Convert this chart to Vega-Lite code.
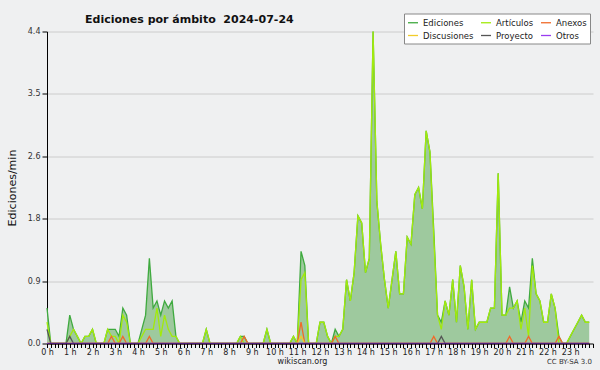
{
"$schema": "https://vega.github.io/schema/vega-lite/v6.json",
"width": 546, "height": 312,
"autosize": {"type": "none"},
"padding": {"left": 47, "top": 31.5, "right": 7, "bottom": 26.5},
"background": "#eff0f1",
"config": {"view": {"stroke": null, "fill": "#eff0f1"}, "font": "DejaVu Sans"},
"title": {"text": "Ediciones por ámbito\u00a0 2024-07-24", "anchor": "start", "frame": "group", "dx": 38, "dy": 32, "font": "DejaVu Sans", "fontSize": 11, "fontWeight": "bold", "color": "#111111", "offset": 11, "baseline": "alphabetic"},
"data": {"values": [
{"min":0,"Ediciones":0.5,"Artículos":0.3,"Anexos":0,"Discusiones":0,"Proyecto":0.2,"Otros":0},
{"min":10,"Ediciones":0,"Artículos":0,"Anexos":0,"Discusiones":0,"Proyecto":0,"Otros":0},
{"min":20,"Ediciones":0,"Artículos":0,"Anexos":0,"Discusiones":0,"Proyecto":0,"Otros":0},
{"min":30,"Ediciones":0,"Artículos":0,"Anexos":0,"Discusiones":0,"Proyecto":0,"Otros":0},
{"min":40,"Ediciones":0,"Artículos":0,"Anexos":0,"Discusiones":0,"Proyecto":0,"Otros":0},
{"min":50,"Ediciones":0,"Artículos":0,"Anexos":0,"Discusiones":0,"Proyecto":0,"Otros":0},
{"min":60,"Ediciones":0.4,"Artículos":0.1,"Anexos":0,"Discusiones":0,"Proyecto":0.1,"Otros":0},
{"min":70,"Ediciones":0.2,"Artículos":0.2,"Anexos":0,"Discusiones":0,"Proyecto":0,"Otros":0},
{"min":80,"Ediciones":0.1,"Artículos":0.1,"Anexos":0,"Discusiones":0,"Proyecto":0,"Otros":0},
{"min":90,"Ediciones":0,"Artículos":0,"Anexos":0,"Discusiones":0,"Proyecto":0,"Otros":0},
{"min":100,"Ediciones":0.1,"Artículos":0.1,"Anexos":0,"Discusiones":0,"Proyecto":0,"Otros":0},
{"min":110,"Ediciones":0.1,"Artículos":0.1,"Anexos":0,"Discusiones":0,"Proyecto":0,"Otros":0},
{"min":120,"Ediciones":0.2,"Artículos":0.2,"Anexos":0,"Discusiones":0,"Proyecto":0,"Otros":0},
{"min":130,"Ediciones":0,"Artículos":0,"Anexos":0,"Discusiones":0,"Proyecto":0,"Otros":0},
{"min":140,"Ediciones":0,"Artículos":0,"Anexos":0,"Discusiones":0,"Proyecto":0,"Otros":0},
{"min":150,"Ediciones":0,"Artículos":0,"Anexos":0,"Discusiones":0,"Proyecto":0,"Otros":0},
{"min":160,"Ediciones":0.2,"Artículos":0.2,"Anexos":0,"Discusiones":0,"Proyecto":0,"Otros":0},
{"min":170,"Ediciones":0.2,"Artículos":0.1,"Anexos":0.1,"Discusiones":0,"Proyecto":0,"Otros":0},
{"min":180,"Ediciones":0.2,"Artículos":0.1,"Anexos":0,"Discusiones":0,"Proyecto":0,"Otros":0},
{"min":190,"Ediciones":0.1,"Artículos":0,"Anexos":0,"Discusiones":0,"Proyecto":0,"Otros":0},
{"min":200,"Ediciones":0.5,"Artículos":0.4,"Anexos":0.1,"Discusiones":0,"Proyecto":0,"Otros":0},
{"min":210,"Ediciones":0.4,"Artículos":0.3,"Anexos":0,"Discusiones":0,"Proyecto":0,"Otros":0},
{"min":220,"Ediciones":0,"Artículos":0,"Anexos":0,"Discusiones":0,"Proyecto":0,"Otros":0},
{"min":230,"Ediciones":0,"Artículos":0,"Anexos":0,"Discusiones":0,"Proyecto":0,"Otros":0},
{"min":240,"Ediciones":0,"Artículos":0,"Anexos":0,"Discusiones":0,"Proyecto":0,"Otros":0},
{"min":250,"Ediciones":0.2,"Artículos":0.1,"Anexos":0,"Discusiones":0,"Proyecto":0,"Otros":0},
{"min":260,"Ediciones":0.4,"Artículos":0.2,"Anexos":0,"Discusiones":0,"Proyecto":0,"Otros":0},
{"min":270,"Ediciones":1.2,"Artículos":0.2,"Anexos":0.1,"Discusiones":0,"Proyecto":0,"Otros":0},
{"min":280,"Ediciones":0.5,"Artículos":0.2,"Anexos":0,"Discusiones":0,"Proyecto":0,"Otros":0},
{"min":290,"Ediciones":0.6,"Artículos":0.5,"Anexos":0,"Discusiones":0,"Proyecto":0,"Otros":0},
{"min":300,"Ediciones":0.4,"Artículos":0.1,"Anexos":0,"Discusiones":0,"Proyecto":0,"Otros":0},
{"min":310,"Ediciones":0.6,"Artículos":0.4,"Anexos":0,"Discusiones":0,"Proyecto":0,"Otros":0},
{"min":320,"Ediciones":0.5,"Artículos":0.2,"Anexos":0,"Discusiones":0,"Proyecto":0,"Otros":0},
{"min":330,"Ediciones":0.6,"Artículos":0.1,"Anexos":0,"Discusiones":0,"Proyecto":0,"Otros":0},
{"min":340,"Ediciones":0.1,"Artículos":0.1,"Anexos":0,"Discusiones":0,"Proyecto":0,"Otros":0},
{"min":350,"Ediciones":0,"Artículos":0,"Anexos":0,"Discusiones":0,"Proyecto":0,"Otros":0},
{"min":360,"Ediciones":0,"Artículos":0,"Anexos":0,"Discusiones":0,"Proyecto":0,"Otros":0},
{"min":370,"Ediciones":0,"Artículos":0,"Anexos":0,"Discusiones":0,"Proyecto":0,"Otros":0},
{"min":380,"Ediciones":0,"Artículos":0,"Anexos":0,"Discusiones":0,"Proyecto":0,"Otros":0},
{"min":390,"Ediciones":0,"Artículos":0,"Anexos":0,"Discusiones":0,"Proyecto":0,"Otros":0},
{"min":400,"Ediciones":0,"Artículos":0,"Anexos":0,"Discusiones":0,"Proyecto":0,"Otros":0},
{"min":410,"Ediciones":0,"Artículos":0,"Anexos":0,"Discusiones":0,"Proyecto":0,"Otros":0},
{"min":420,"Ediciones":0.2,"Artículos":0.2,"Anexos":0,"Discusiones":0,"Proyecto":0,"Otros":0},
{"min":430,"Ediciones":0,"Artículos":0,"Anexos":0,"Discusiones":0,"Proyecto":0,"Otros":0},
{"min":440,"Ediciones":0,"Artículos":0,"Anexos":0,"Discusiones":0,"Proyecto":0,"Otros":0},
{"min":450,"Ediciones":0,"Artículos":0,"Anexos":0,"Discusiones":0,"Proyecto":0,"Otros":0},
{"min":460,"Ediciones":0,"Artículos":0,"Anexos":0,"Discusiones":0,"Proyecto":0,"Otros":0},
{"min":470,"Ediciones":0,"Artículos":0,"Anexos":0,"Discusiones":0,"Proyecto":0,"Otros":0},
{"min":480,"Ediciones":0,"Artículos":0,"Anexos":0,"Discusiones":0,"Proyecto":0,"Otros":0},
{"min":490,"Ediciones":0,"Artículos":0,"Anexos":0,"Discusiones":0,"Proyecto":0,"Otros":0},
{"min":500,"Ediciones":0,"Artículos":0,"Anexos":0,"Discusiones":0,"Proyecto":0,"Otros":0},
{"min":510,"Ediciones":0.1,"Artículos":0.1,"Anexos":0,"Discusiones":0,"Proyecto":0,"Otros":0},
{"min":520,"Ediciones":0.1,"Artículos":0,"Anexos":0.1,"Discusiones":0,"Proyecto":0,"Otros":0},
{"min":530,"Ediciones":0,"Artículos":0,"Anexos":0,"Discusiones":0,"Proyecto":0,"Otros":0},
{"min":540,"Ediciones":0,"Artículos":0,"Anexos":0,"Discusiones":0,"Proyecto":0,"Otros":0},
{"min":550,"Ediciones":0,"Artículos":0,"Anexos":0,"Discusiones":0,"Proyecto":0,"Otros":0},
{"min":560,"Ediciones":0,"Artículos":0,"Anexos":0,"Discusiones":0,"Proyecto":0,"Otros":0},
{"min":570,"Ediciones":0,"Artículos":0,"Anexos":0,"Discusiones":0,"Proyecto":0,"Otros":0},
{"min":580,"Ediciones":0.2,"Artículos":0.2,"Anexos":0,"Discusiones":0,"Proyecto":0,"Otros":0},
{"min":590,"Ediciones":0,"Artículos":0,"Anexos":0,"Discusiones":0,"Proyecto":0,"Otros":0},
{"min":600,"Ediciones":0,"Artículos":0,"Anexos":0,"Discusiones":0,"Proyecto":0,"Otros":0},
{"min":610,"Ediciones":0,"Artículos":0,"Anexos":0,"Discusiones":0,"Proyecto":0,"Otros":0},
{"min":620,"Ediciones":0,"Artículos":0,"Anexos":0,"Discusiones":0,"Proyecto":0,"Otros":0},
{"min":630,"Ediciones":0,"Artículos":0,"Anexos":0,"Discusiones":0,"Proyecto":0,"Otros":0},
{"min":640,"Ediciones":0,"Artículos":0,"Anexos":0,"Discusiones":0,"Proyecto":0,"Otros":0},
{"min":650,"Ediciones":0.1,"Artículos":0.1,"Anexos":0,"Discusiones":0,"Proyecto":0,"Otros":0},
{"min":660,"Ediciones":0,"Artículos":0,"Anexos":0,"Discusiones":0,"Proyecto":0,"Otros":0},
{"min":670,"Ediciones":1.3,"Artículos":0.9,"Anexos":0.3,"Discusiones":0.1,"Proyecto":0,"Otros":0},
{"min":680,"Ediciones":1.1,"Artículos":1.0,"Anexos":0,"Discusiones":0,"Proyecto":0,"Otros":0},
{"min":690,"Ediciones":0,"Artículos":0,"Anexos":0,"Discusiones":0,"Proyecto":0,"Otros":0},
{"min":700,"Ediciones":0,"Artículos":0,"Anexos":0,"Discusiones":0,"Proyecto":0,"Otros":0},
{"min":710,"Ediciones":0,"Artículos":0,"Anexos":0,"Discusiones":0,"Proyecto":0,"Otros":0},
{"min":720,"Ediciones":0.3,"Artículos":0.3,"Anexos":0,"Discusiones":0,"Proyecto":0,"Otros":0},
{"min":730,"Ediciones":0.3,"Artículos":0.3,"Anexos":0,"Discusiones":0,"Proyecto":0,"Otros":0},
{"min":740,"Ediciones":0.1,"Artículos":0.1,"Anexos":0,"Discusiones":0,"Proyecto":0,"Otros":0},
{"min":750,"Ediciones":0,"Artículos":0,"Anexos":0,"Discusiones":0,"Proyecto":0,"Otros":0},
{"min":760,"Ediciones":0.2,"Artículos":0.1,"Anexos":0.1,"Discusiones":0,"Proyecto":0,"Otros":0},
{"min":770,"Ediciones":0.1,"Artículos":0.1,"Anexos":0,"Discusiones":0,"Proyecto":0,"Otros":0},
{"min":780,"Ediciones":0.2,"Artículos":0.2,"Anexos":0,"Discusiones":0,"Proyecto":0,"Otros":0},
{"min":790,"Ediciones":0.9,"Artículos":0.9,"Anexos":0,"Discusiones":0,"Proyecto":0,"Otros":0},
{"min":800,"Ediciones":0.6,"Artículos":0.6,"Anexos":0,"Discusiones":0,"Proyecto":0,"Otros":0},
{"min":810,"Ediciones":1.0,"Artículos":1.0,"Anexos":0,"Discusiones":0,"Proyecto":0,"Otros":0},
{"min":820,"Ediciones":1.8,"Artículos":1.8,"Anexos":0,"Discusiones":0,"Proyecto":0,"Otros":0},
{"min":830,"Ediciones":1.7,"Artículos":1.7,"Anexos":0,"Discusiones":0,"Proyecto":0,"Otros":0},
{"min":840,"Ediciones":1.0,"Artículos":1.0,"Anexos":0,"Discusiones":0,"Proyecto":0,"Otros":0},
{"min":850,"Ediciones":1.2,"Artículos":1.2,"Anexos":0,"Discusiones":0,"Proyecto":0,"Otros":0},
{"min":860,"Ediciones":4.4,"Artículos":4.4,"Anexos":0,"Discusiones":0,"Proyecto":0,"Otros":0},
{"min":870,"Ediciones":2.0,"Artículos":2.0,"Anexos":0,"Discusiones":0,"Proyecto":0,"Otros":0},
{"min":880,"Ediciones":1.4,"Artículos":1.4,"Anexos":0,"Discusiones":0,"Proyecto":0,"Otros":0},
{"min":890,"Ediciones":0.9,"Artículos":0.9,"Anexos":0,"Discusiones":0,"Proyecto":0,"Otros":0},
{"min":900,"Ediciones":0.5,"Artículos":0.5,"Anexos":0,"Discusiones":0,"Proyecto":0,"Otros":0},
{"min":910,"Ediciones":0.9,"Artículos":0.9,"Anexos":0,"Discusiones":0,"Proyecto":0,"Otros":0},
{"min":920,"Ediciones":1.3,"Artículos":1.3,"Anexos":0,"Discusiones":0,"Proyecto":0,"Otros":0},
{"min":930,"Ediciones":0.7,"Artículos":0.7,"Anexos":0,"Discusiones":0,"Proyecto":0,"Otros":0},
{"min":940,"Ediciones":0.7,"Artículos":0.7,"Anexos":0,"Discusiones":0,"Proyecto":0,"Otros":0},
{"min":950,"Ediciones":1.5,"Artículos":1.5,"Anexos":0,"Discusiones":0,"Proyecto":0,"Otros":0},
{"min":960,"Ediciones":1.4,"Artículos":1.4,"Anexos":0,"Discusiones":0,"Proyecto":0,"Otros":0},
{"min":970,"Ediciones":2.1,"Artículos":2.1,"Anexos":0,"Discusiones":0,"Proyecto":0,"Otros":0},
{"min":980,"Ediciones":2.2,"Artículos":2.2,"Anexos":0,"Discusiones":0,"Proyecto":0,"Otros":0},
{"min":990,"Ediciones":1.9,"Artículos":1.9,"Anexos":0,"Discusiones":0,"Proyecto":0,"Otros":0},
{"min":1000,"Ediciones":3.0,"Artículos":3.0,"Anexos":0,"Discusiones":0,"Proyecto":0,"Otros":0},
{"min":1010,"Ediciones":2.7,"Artículos":2.7,"Anexos":0,"Discusiones":0,"Proyecto":0,"Otros":0},
{"min":1020,"Ediciones":1.6,"Artículos":1.5,"Anexos":0.1,"Discusiones":0,"Proyecto":0,"Otros":0},
{"min":1030,"Ediciones":0.4,"Artículos":0.4,"Anexos":0,"Discusiones":0,"Proyecto":0,"Otros":0},
{"min":1040,"Ediciones":0.3,"Artículos":0.2,"Anexos":0,"Discusiones":0,"Proyecto":0.1,"Otros":0},
{"min":1050,"Ediciones":0.6,"Artículos":0.6,"Anexos":0,"Discusiones":0,"Proyecto":0,"Otros":0},
{"min":1060,"Ediciones":0.4,"Artículos":0.4,"Anexos":0,"Discusiones":0,"Proyecto":0,"Otros":0},
{"min":1070,"Ediciones":0.9,"Artículos":0.9,"Anexos":0,"Discusiones":0,"Proyecto":0,"Otros":0},
{"min":1080,"Ediciones":0.3,"Artículos":0.3,"Anexos":0,"Discusiones":0,"Proyecto":0,"Otros":0},
{"min":1090,"Ediciones":1.1,"Artículos":1.1,"Anexos":0,"Discusiones":0,"Proyecto":0,"Otros":0},
{"min":1100,"Ediciones":0.8,"Artículos":0.8,"Anexos":0,"Discusiones":0,"Proyecto":0,"Otros":0},
{"min":1110,"Ediciones":0.2,"Artículos":0.2,"Anexos":0,"Discusiones":0,"Proyecto":0,"Otros":0},
{"min":1120,"Ediciones":0.9,"Artículos":0.9,"Anexos":0,"Discusiones":0,"Proyecto":0,"Otros":0},
{"min":1130,"Ediciones":0.2,"Artículos":0.2,"Anexos":0,"Discusiones":0,"Proyecto":0,"Otros":0},
{"min":1140,"Ediciones":0.3,"Artículos":0.3,"Anexos":0,"Discusiones":0,"Proyecto":0,"Otros":0},
{"min":1150,"Ediciones":0.3,"Artículos":0.3,"Anexos":0,"Discusiones":0,"Proyecto":0,"Otros":0},
{"min":1160,"Ediciones":0.3,"Artículos":0.3,"Anexos":0,"Discusiones":0,"Proyecto":0,"Otros":0},
{"min":1170,"Ediciones":0.5,"Artículos":0.5,"Anexos":0,"Discusiones":0,"Proyecto":0,"Otros":0},
{"min":1180,"Ediciones":0.5,"Artículos":0.5,"Anexos":0,"Discusiones":0,"Proyecto":0,"Otros":0},
{"min":1190,"Ediciones":2.4,"Artículos":2.4,"Anexos":0,"Discusiones":0,"Proyecto":0,"Otros":0},
{"min":1200,"Ediciones":0.4,"Artículos":0.4,"Anexos":0,"Discusiones":0,"Proyecto":0,"Otros":0},
{"min":1210,"Ediciones":0.4,"Artículos":0.4,"Anexos":0,"Discusiones":0,"Proyecto":0,"Otros":0},
{"min":1220,"Ediciones":0.8,"Artículos":0.5,"Anexos":0.1,"Discusiones":0,"Proyecto":0,"Otros":0},
{"min":1230,"Ediciones":0.5,"Artículos":0.5,"Anexos":0,"Discusiones":0,"Proyecto":0,"Otros":0},
{"min":1240,"Ediciones":0.6,"Artículos":0.6,"Anexos":0,"Discusiones":0,"Proyecto":0,"Otros":0},
{"min":1250,"Ediciones":0.3,"Artículos":0.2,"Anexos":0,"Discusiones":0,"Proyecto":0,"Otros":0},
{"min":1260,"Ediciones":0.6,"Artículos":0.5,"Anexos":0,"Discusiones":0,"Proyecto":0,"Otros":0},
{"min":1270,"Ediciones":0.5,"Artículos":0.1,"Anexos":0.1,"Discusiones":0,"Proyecto":0,"Otros":0},
{"min":1280,"Ediciones":1.2,"Artículos":1.1,"Anexos":0,"Discusiones":0,"Proyecto":0,"Otros":0},
{"min":1290,"Ediciones":0.7,"Artículos":0.7,"Anexos":0,"Discusiones":0,"Proyecto":0,"Otros":0},
{"min":1300,"Ediciones":0.6,"Artículos":0.6,"Anexos":0,"Discusiones":0,"Proyecto":0,"Otros":0},
{"min":1310,"Ediciones":0.3,"Artículos":0.3,"Anexos":0,"Discusiones":0,"Proyecto":0,"Otros":0},
{"min":1320,"Ediciones":0.3,"Artículos":0.3,"Anexos":0,"Discusiones":0,"Proyecto":0,"Otros":0},
{"min":1330,"Ediciones":0.7,"Artículos":0.7,"Anexos":0,"Discusiones":0,"Proyecto":0,"Otros":0},
{"min":1340,"Ediciones":0.5,"Artículos":0.5,"Anexos":0,"Discusiones":0,"Proyecto":0,"Otros":0},
{"min":1350,"Ediciones":0.1,"Artículos":0,"Anexos":0.1,"Discusiones":0,"Proyecto":0,"Otros":0},
{"min":1360,"Ediciones":0,"Artículos":0,"Anexos":0,"Discusiones":0,"Proyecto":0,"Otros":0},
{"min":1370,"Ediciones":0,"Artículos":0,"Anexos":0,"Discusiones":0,"Proyecto":0,"Otros":0},
{"min":1380,"Ediciones":0.1,"Artículos":0.1,"Anexos":0,"Discusiones":0,"Proyecto":0,"Otros":0},
{"min":1390,"Ediciones":0.2,"Artículos":0.2,"Anexos":0,"Discusiones":0,"Proyecto":0,"Otros":0},
{"min":1400,"Ediciones":0.3,"Artículos":0.3,"Anexos":0,"Discusiones":0,"Proyecto":0,"Otros":0},
{"min":1410,"Ediciones":0.4,"Artículos":0.4,"Anexos":0,"Discusiones":0,"Proyecto":0,"Otros":0},
{"min":1420,"Ediciones":0.3,"Artículos":0.3,"Anexos":0,"Discusiones":0,"Proyecto":0,"Otros":0},
{"min":1430,"Ediciones":0.3,"Artículos":0.3,"Anexos":0,"Discusiones":0,"Proyecto":0,"Otros":0}
]},
"layer": [
{"mark": {"type": "area", "color": "#9ec99e", "opacity": 1},
 "encoding": {
  "x": {"field": "min", "type": "quantitative", "scale": {"domain": [0, 1440], "nice": false, "zero": false},
        "axis": {"title": "wikiscan.org", "tickCount": 144, "labelExpr": "datum.value % 60 == 0 && datum.value < 1440 ? (datum.value / 60) + ' h' : ''", "labelOverlap": false, "labelFlush": false, "labelFont": "DejaVu Sans", "labelFontSize": 8, "labelColor": "#222222", "labelPadding": 1, "tickSize": 4, "tickColor": "#000000", "domainColor": "#000000", "grid": false, "titleFont": "DejaVu Sans", "titleFontSize": 8, "titleFontWeight": "normal", "titleColor": "#222222", "titleX": 255, "titleY": 20, "titleAlign": "center", "titleBaseline": "alphabetic", "zindex": 1}},
  "y": {"field": "Ediciones", "type": "quantitative", "scale": {"domain": [0, 4.4], "nice": false},
        "axis": {"title": "Ediciones/min", "values": [0,0.22,0.44,0.66,0.88,1.1,1.32,1.54,1.76,1.98,2.2,2.42,2.64,2.86,3.08,3.3,3.52,3.74,3.96,4.18,4.4], "labelExpr": "abs(datum.value / 0.88 - round(datum.value / 0.88)) < 0.01 ? format(datum.value, '.1f') : ''", "labelFont": "DejaVu Sans", "labelFontSize": 8, "labelColor": "#333333", "labelPadding": 2, "tickSize": 5, "tickColor": "#000000", "domainColor": "#000000", "grid": true, "gridColor": "#cccccc", "gridOpacity": {"condition": {"test": "abs(datum.value / 0.88 - round(datum.value / 0.88)) < 0.01 && datum.value > 0", "value": 1}, "value": 0}, "titleFont": "DejaVu Sans", "titleFontSize": 11, "titleFontWeight": "normal", "titleColor": "#111111", "titlePadding": 10}}
 }},
{"transform": [{"fold": ["Ediciones", "Artículos", "Anexos", "Discusiones", "Proyecto", "Otros"], "as": ["serie", "valor"]}],
 "mark": {"type": "line", "strokeWidth": 1.3},
 "encoding": {
  "x": {"field": "min", "type": "quantitative"},
  "y": {"field": "valor", "type": "quantitative"},
  "color": {"field": "serie", "type": "nominal",
    "scale": {"domain": ["Ediciones", "Artículos", "Anexos", "Discusiones", "Proyecto", "Otros"], "range": ["#3faa3f", "#a2ea0c", "#f06a2a", "#f2cc2a", "#555555", "#9a3cf0"]},
    "legend": {"orient": "none", "legendX": 357, "legendY": -18, "columns": 3, "direction": "horizontal", "title": null, "symbolType": "stroke", "symbolSize": 100, "symbolStrokeWidth": 1.3, "labelFont": "DejaVu Sans", "labelFontSize": 8.5, "labelColor": "#222222", "labelOffset": 4, "columnPadding": 4, "rowPadding": 2, "padding": 3, "fillColor": "#ffffff", "strokeColor": "#888888"}}
 }},
{"data": {"values": [{"nota": "CC BY-SA 3.0"}]},
 "mark": {"type": "text", "align": "right", "baseline": "alphabetic", "dy": 20, "dx": -1, "font": "DejaVu Sans", "fontSize": 7, "color": "#333333"},
 "encoding": {"x": {"datum": 1440}, "y": {"datum": 0}, "text": {"field": "nota"}}}
]
}
